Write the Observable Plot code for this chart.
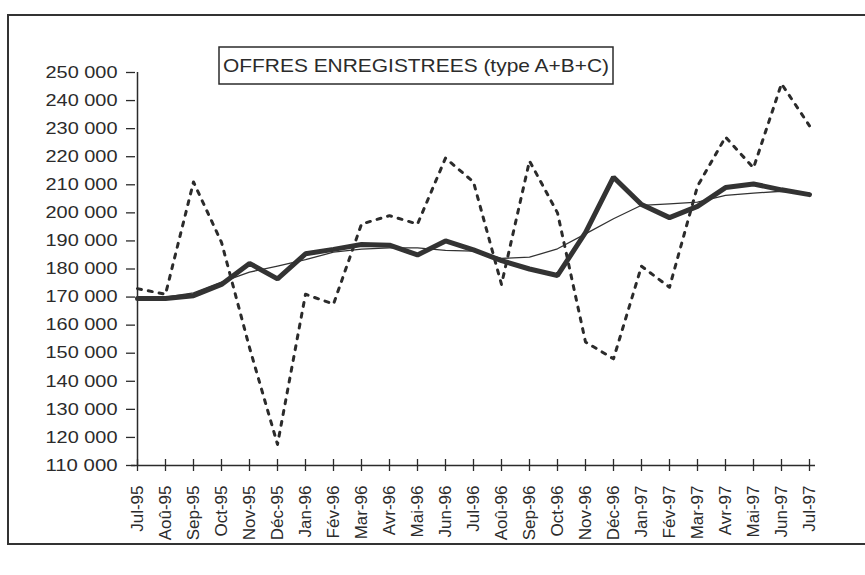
<!DOCTYPE html>
<html>
<head>
<meta charset="utf-8">
<script src="https://cdn.jsdelivr.net/npm/d3@7"></script>
<script src="https://cdn.jsdelivr.net/npm/@observablehq/plot@0.6"></script>
<style>
  html, body { margin: 0; padding: 0; background: #fff; overflow: hidden; }
  #wrap { position: relative; width: 865px; height: 575px; overflow: hidden; font-family: "Liberation Sans", Arial, sans-serif; }
  #frame { position: absolute; left: 7px; top: 14px; width: 858px; height: 531px; border: 2px solid #333; border-right: none; box-sizing: border-box; pointer-events: none; }
  #chart { position: absolute; left: 0; top: 0; }
</style>
</head>
<body>
<div id="wrap"><div id="chart"></div><div id="frame"></div></div>
<script>
const months = ["Jul-95","Aoû-95","Sep-95","Oct-95","Nov-95","Déc-95","Jan-96","Fév-96","Mar-96","Avr-96","Mai-96","Jun-96","Jul-96","Aoû-96","Sep-96","Oct-96","Nov-96","Déc-96","Jan-97","Fév-97","Mar-97","Avr-97","Mai-97","Jun-97","Jul-97"];

// données brutes (pointillés)
const brutes = [173000,171000,211000,189500,152000,117500,171000,167500,196000,199000,196000,219500,211000,174500,218500,200000,154000,148000,181000,173500,209500,227000,216000,246000,231000];
// série CVS (trait épais)
const cvs = [169500,169500,170500,174500,182000,176500,185400,187000,188700,188500,185000,190000,186800,183000,180000,177700,193000,212700,203000,198300,202300,209000,210300,208200,206500];
// tendance (trait fin)
const tendance = [169500,170000,171500,175300,178900,181000,183300,186000,187100,187500,187500,186600,186400,183800,184200,187200,192500,197900,202700,203200,203800,206200,207000,207700,207000];

const yTicks = [110000,120000,130000,140000,150000,160000,170000,180000,190000,200000,210000,220000,230000,240000,250000];
const title = "OFFRES ENREGISTREES (type A+B+C)";

const rows = months.map((m, i) => ({mois: m, brutes: brutes[i], cvs: cvs[i], tendance: tendance[i]}));
const fmt = d => d3.format(",")(d).replace(/,/g, " ");

const ink = "#2b2b2b";
const chart = Plot.plot({
  width: 865,
  height: 575,
  marginLeft: 131,
  marginRight: 50,
  marginTop: 72,
  marginBottom: 110,
  style: {fontFamily: "'Liberation Sans', Arial, sans-serif", color: ink, background: "transparent"},
  x: {type: "point", domain: months, padding: 0},
  y: {domain: [110000, 250000]},
  marks: [
    Plot.axisY({ticks: yTicks, tickSize: 9, dx: 4, fill: null, label: null, strokeWidth: 1.3}),
    Plot.axisY({ticks: yTicks, tickSize: 0, tickPadding: 14, tickFormat: fmt, fontSize: 16.5, label: null}),
    Plot.axisX({tickSize: 12, dy: -6, fill: null, label: null, strokeWidth: 1.3}),
    Plot.axisX({tickSize: 0, tickPadding: 20, tickRotate: -90, fontSize: 17, label: null}),
    Plot.ruleX([months[0]], {stroke: ink, strokeWidth: 1.5}),
    Plot.ruleY([110000], {stroke: ink, strokeWidth: 1.5}),
    Plot.lineY(rows, {x: "mois", y: "brutes", stroke: ink, strokeWidth: 3, strokeDasharray: "4,7"}),
    Plot.lineY(rows, {x: "mois", y: "cvs", stroke: "#333", strokeWidth: 5, strokeLinejoin: "miter"}),
    Plot.lineY(rows, {x: "mois", y: "tendance", stroke: "#333", strokeWidth: 1.3})
  ]
});

document.getElementById("chart").appendChild(chart);

const svg = d3.select(chart);
// stretch y tick labels like the scanned original
svg.selectAll('g[aria-label="y-axis tick label"] text')
  .attr("textLength", 72)
  .attr("lengthAdjust", "spacingAndGlyphs");

// title box
const tb = svg.append("g").attr("text-anchor", "start");
tb.append("rect")
  .attr("x", 219).attr("y", 47).attr("width", 394).attr("height", 37)
  .attr("fill", "#fff").attr("stroke", ink).attr("stroke-width", 1.5);
tb.append("text")
  .attr("x", 223).attr("y", 72)
  .attr("text-anchor", "start")
  .attr("font-size", 18.5)
  .attr("fill", ink)
  .attr("textLength", 386)
  .attr("lengthAdjust", "spacingAndGlyphs")
  .text(title);
</script>
</body>
</html>
